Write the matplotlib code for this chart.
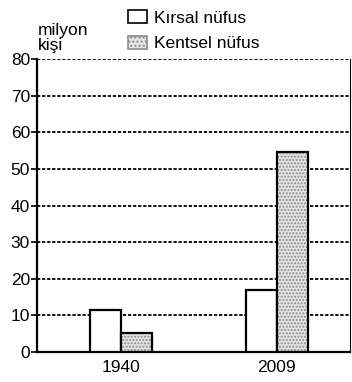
import numpy as np
import matplotlib.pyplot as plt
from matplotlib.patches import Patch

# data (milyon kişi)
years = ["1940", "2009"]
kirsal = [11.5, 17.0]
kentsel = [5.2, 54.5]
y_ticks = [0, 10, 20, 30, 40, 50, 60, 70, 80]

plt.rcParams['font.family'] = ['Liberation Sans', 'DejaVu Sans']

fig = plt.figure(figsize=(3.52, 3.82), dpi=100)
ax = fig.add_axes([0.105, 0.0785, 0.889, 0.767])

x = np.arange(len(years))
w = 0.2

# dashed grid lines behind the bars
for t in y_ticks[1:]:
    ax.axhline(t, color="black", lw=1.3, ls=(0, (1.8, 1.0)), zorder=1)

ax.bar(x - w / 2, kirsal, w, color="white", edgecolor="black", lw=1.6, zorder=3)
# stippled fill for the urban bars, then a black outline on top
ax.bar(x + w / 2, kentsel, w, color="#e4e4e4", edgecolor="#8a8a8a", hatch=".....",
       lw=0, zorder=3)
ax.bar(x + w / 2, kentsel, w, color="none", edgecolor="black", lw=1.6, zorder=4)

ax.set_xlim(-0.538, 1.468)
ax.set_ylim(0, 80)
ax.set_yticks(y_ticks)
ax.set_xticks(x)
ax.set_xticklabels(years)
ax.tick_params(axis="y", length=4, width=1.2, labelsize=12.5, pad=1)
ax.tick_params(axis="x", length=0, labelsize=12.5, pad=6)

for s in ("left", "bottom"):
    ax.spines[s].set_linewidth(1.6)
ax.spines["top"].set_visible(False)
ax.spines["right"].set_linewidth(0.8)

fig.text(0.108, 0.862, "milyon\nkişi", fontsize=12.5, ha="left", va="bottom",
         linespacing=0.95)

handles = [
    Patch(facecolor="white", edgecolor="black", lw=1.2, label="Kırsal nüfus"),
    Patch(facecolor="#e4e4e4", edgecolor="#8a8a8a", hatch="....", lw=1.2,
          label="Kentsel nüfus"),
]
fig.legend(handles=handles, loc="upper left", bbox_to_anchor=(0.33, 1.005),
           frameon=False, fontsize=12.5, handlelength=1.1, handleheight=0.75,
           handletextpad=0.4, labelspacing=0.6, borderpad=0.2)

fig.savefig("out.png", dpi=100)
